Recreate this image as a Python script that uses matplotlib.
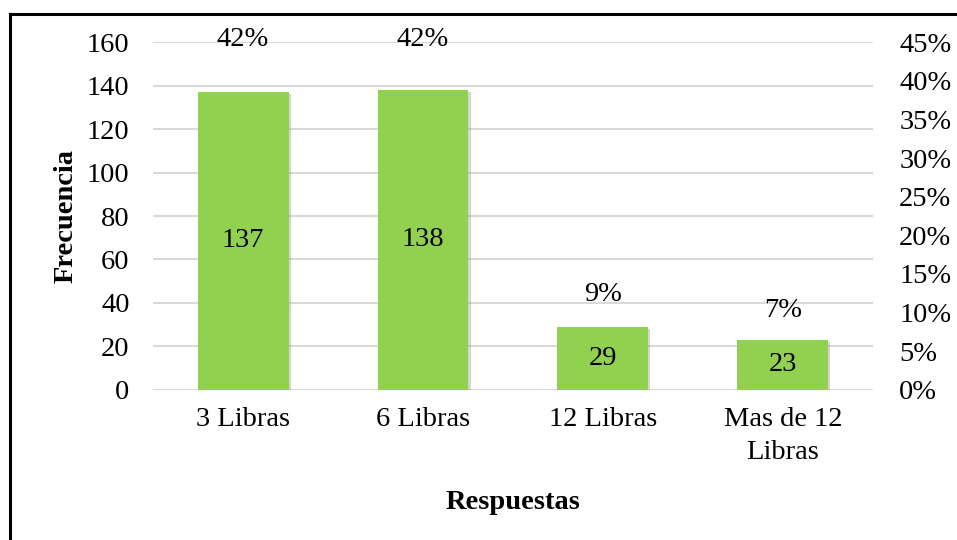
import matplotlib
matplotlib.use("Agg")
import matplotlib.pyplot as plt
from matplotlib.lines import Line2D
import matplotlib.patheffects as pe

categories = ["3 Libras", "6 Libras", "12 Libras", "Mas de 12\nLibras"]
counts = [137, 138, 29, 23]
percents = [0.42, 0.42, 0.09, 0.07]
pct_labels = ["42%", "42%", "9%", "7%"]
left_ticks = [0, 20, 40, 60, 80, 100, 120, 140, 160]
right_ticks = [0.0, 0.05, 0.10, 0.15, 0.20, 0.25, 0.30, 0.35, 0.40, 0.45]

plt.rcParams['font.family'] = ['Liberation Serif', 'DejaVu Serif']
FS = 20.5

fig = plt.figure(figsize=(9.57, 5.40), dpi=100)
ax = fig.add_axes([0.160, 0.278, 0.752, 0.644])
x = list(range(len(categories)))
bars = ax.bar(x, counts, width=0.505, color="#92D050", zorder=3)
for b in bars:
    b.set_path_effects([pe.SimplePatchShadow(offset=(1.5, -1.5), shadow_rgbFace='#888888', alpha=0.35), pe.Normal()])
for xi, c in zip(x, counts):
    ax.text(xi, c / 2, str(c), ha='center', va='center', fontsize=FS, zorder=4)

ax.set_xlim(-0.5, 3.5)
ax.set_ylim(0, 160)
ax.set_yticks(left_ticks)
ax.set_xticks(x)
ax.set_xticklabels(categories, fontsize=FS, linespacing=1.45)
ax.tick_params(axis='y', labelsize=FS, length=0, pad=17)
ax.tick_params(axis='x', length=0, pad=12)
ax.grid(axis='y', color='#D9D9D9', linewidth=1.5, zorder=0)
for s in ax.spines.values():
    s.set_visible(False)
ax.set_ylabel("Frecuencia", fontsize=FS, fontweight='bold', labelpad=6)
ax.set_xlabel("Respuestas", fontsize=FS, fontweight='bold', labelpad=18)

ax2 = ax.twinx()
ax2.set_ylim(0, 0.45)
ax2.set_yticks(right_ticks)
ax2.set_yticklabels([f"{int(round(t*100))}%" for t in right_ticks])
ax2.tick_params(axis='y', labelsize=FS, length=0, pad=19)
for s in ax2.spines.values():
    s.set_visible(False)
ax2.plot(x, percents, alpha=0)
for xi, p, lab in zip(x, percents, pct_labels):
    ax2.annotate(lab, (xi, p), xytext=(0, 18.5), textcoords='offset points',
                 ha='center', va='center', fontsize=FS)

# partial frame
fig.add_artist(Line2D([10/957, 10/957], [0, 1 - 14/540], transform=fig.transFigure, color='black', linewidth=2.2))
fig.add_artist(Line2D([10/957, 1], [1 - 14/540, 1 - 14/540], transform=fig.transFigure, color='black', linewidth=2.2))

fig.savefig("out.png", dpi=100)
